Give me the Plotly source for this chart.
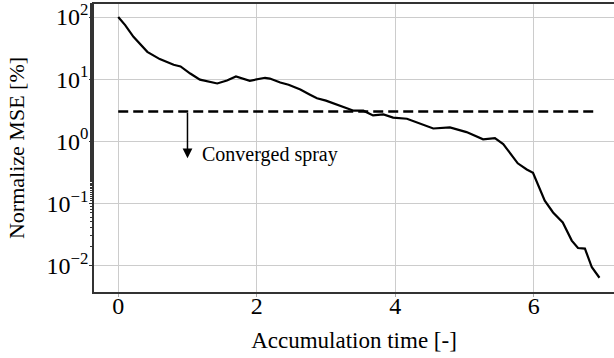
import plotly.graph_objects as go
import numpy as np

# Data
time = [0, 0.1, 0.22, 0.42, 0.6, 0.8, 0.9, 1.04, 1.18, 1.43, 1.57, 1.7, 1.9, 2.12, 2.19,
        2.34, 2.46, 2.63, 2.77, 2.87, 3.0, 3.15, 3.3, 3.4, 3.54, 3.68, 3.83, 3.97, 4.17,
        4.36, 4.55, 4.79, 5.03, 5.27, 5.44, 5.56, 5.77, 5.9, 5.99, 6.16, 6.28, 6.42,
        6.55, 6.64, 6.74, 6.84, 6.95]
mse = [100, 74, 48, 27.5, 21, 17, 16, 12.3, 9.8, 8.5, 9.5, 11, 9.4, 10.5, 10.2,
       8.8, 8.1, 6.8, 5.6, 4.9, 4.5, 3.9, 3.4, 3.1, 3.1, 2.6, 2.7, 2.4, 2.3,
       1.9, 1.6, 1.67, 1.4, 1.07, 1.12, 0.9, 0.44, 0.35, 0.31, 0.11, 0.071, 0.049,
       0.025, 0.019, 0.0186, 0.0093, 0.0063]
threshold_x = [0, 6.9]
threshold_y = [3, 3]
arrow_x = 1.0
arrow_tip_y = 0.53
label_text = "Converged spray"
label_x = 1.18
label_y = 0.62
x_ticks = [0, 2, 4, 6]
y_tick_vals = [0.01, 0.1, 1, 10, 100]
y_tick_text = ["10<sup>\u22122</sup>", "10<sup>\u22121</sup>", "10<sup>0</sup>",
               "10<sup>1</sup>", "10<sup>2</sup>"]

FONT = "Liberation Serif, Times New Roman, serif"

fig = go.Figure()
fig.add_trace(go.Scatter(x=time, y=mse, mode="lines",
                         line=dict(color="black", width=2.2), showlegend=False))
fig.add_trace(go.Scatter(x=threshold_x, y=threshold_y, mode="lines",
                         line=dict(color="black", width=2.4, dash="10px,5px"),
                         showlegend=False))

fig.add_annotation(x=arrow_x, y=np.log10(arrow_tip_y), ax=arrow_x, ay=np.log10(threshold_y[0]),
                   xref="x", yref="y", axref="x", ayref="y", text="",
                   showarrow=True, arrowhead=2, arrowsize=1.3, arrowwidth=1.5,
                   arrowcolor="black")
fig.add_annotation(x=label_x, y=np.log10(label_y), xref="x", yref="y",
                   text=label_text, showarrow=False, xanchor="left", yanchor="middle",
                   font=dict(family=FONT, size=20, color="black"))

fig.update_layout(
    width=614, height=358,
    margin=dict(l=94, r=0, t=2, b=66),
    paper_bgcolor="white", plot_bgcolor="white",
    font=dict(family=FONT, color="black"),
)
fig.update_xaxes(
    range=[-0.35, 7.16], tickvals=x_ticks, ticks="outside", ticklen=3,
    tickcolor="#aaaaaa", tickfont=dict(size=24), ticklabelstandoff=-12,
    showgrid=True, gridcolor="#cccccc", gridwidth=1, zeroline=False,
    showline=True, linecolor="#333333", linewidth=1.5, mirror=True,
    title=dict(text="Accumulation time [-]", font=dict(size=23), standoff=14),
)
fig.update_yaxes(
    type="log", range=[-2.43, 2.21], tickvals=y_tick_vals, ticktext=y_tick_text,
    ticks="outside", ticklen=3, tickcolor="#333333", tickfont=dict(size=24),
    ticklabelstandoff=-4, ticklabeloverflow="allow",
    showgrid=True, gridcolor="#cccccc", gridwidth=1, zeroline=False,
    showline=True, linecolor="#333333", linewidth=1.5,
    minor=dict(ticks="outside", ticklen=2, tickcolor="#333333", showgrid=False),
    title=dict(text="Normalize MSE [%]", font=dict(size=22), standoff=16),
)

fig.write_html("out.html", config={"displayModeBar": False},
               post_script="document.body.style.margin='0';document.body.style.overflow='hidden';")
